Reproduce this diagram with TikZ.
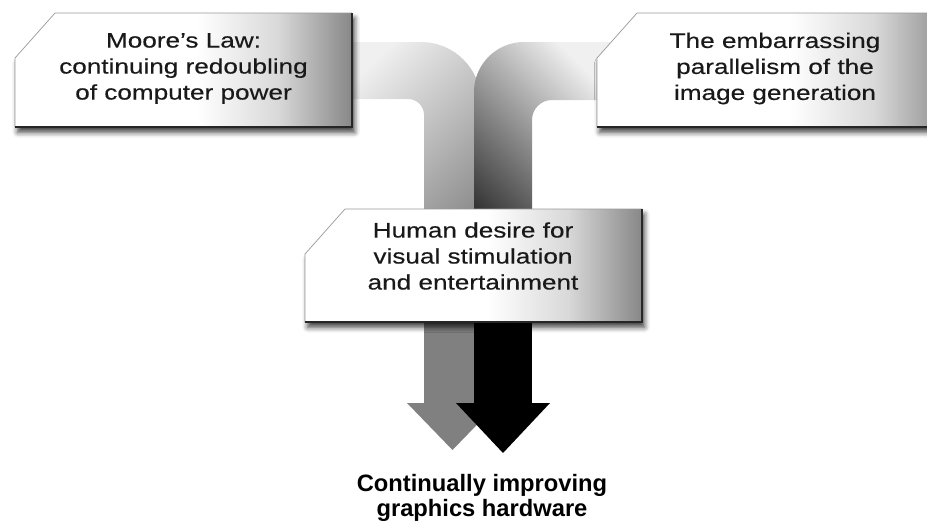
\documentclass[tikz,border=0pt]{standalone}
\usepackage{fontspec}
\setmainfont{Liberation Sans}
\newfontfamily\widefont[FakeStretch=1.24,FakeBold=0.3]{Liberation Sans}
\usetikzlibrary{arrows.meta,shadows.blur}
\pgfdeclarehorizontalshading{boxfade}{100bp}{color(0bp)=(white); color(52bp)=(white);
  color(64bp)=(black!15); color(75bp)=(black!47); color(100bp)=(black!47)}

\begin{document}
\begin{tikzpicture}[x=0.02cm,y=-0.02cm,
    panel/.style={shading=boxfade,
      blur shadow={shadow xshift=1.5pt,shadow yshift=-3pt,shadow blur radius=3pt,shadow opacity=75}},
    caption/.style={align=center,inner sep=0pt,text=black!90,
      font=\widefont\fontsize{12}{14.8}\selectfont},
    goal/.style={align=center,inner sep=0pt,font=\fontsize{13.5}{14}\selectfont\bfseries}]
  % Configurable parameters
  \def\cutx{40}            % Horizontal size of the cut corner
  \def\cuty{45}            % Vertical size of the cut corner
  \newcommand{\panelbox}[4]{% left, top, right, bottom
    \shade[panel] (#1+\cutx,#2) -- (#3,#2) -- (#3,#4) -- (#1,#4) -- (#1,#2+\cuty) -- cycle;
    \draw[black!40,line width=0.4pt] (#1,#4) -- (#1,#2+\cuty) -- (#1+\cutx,#2) -- (#3,#2);
    \draw[black!85,line width=1.1pt] (#3,#2) -- (#3,#4) -- (#1,#4);}
  %
  \useasboundingbox (0,0) rectangle (927,521);
  %
  % Bands (upper, shaded part)
  \shade[top color=black!6,bottom color=black!45,shading angle=45]
    (340,42) -- (421,42) arc (-90:0:60) -- (481,260) -- (424,260)
    -- (424,115) arc (0:-90:16) -- (340,99) -- cycle;
  \shade[top color=black!6,bottom color=black!80,shading angle=-45]
    (610,42) -- (524,42) arc (-90:-180:50) -- (474,260) -- (532,260)
    -- (532,120) arc (180:270:20) -- (610,100) -- cycle;
  %
  % Labels
  \node[caption] (moore) at (183.5,68.5) {Moore’s Law:\\continuing redoubling\\of computer power};
  \node[caption] (parallel) at (775,68.5) {The embarrassing\\parallelism of the\\image generation};
  \node[caption] (desire) at (473,256) {Human desire for\\visual stimulation\\and entertainment};
  \node[goal] (hardware) at (482,498) {Continually improving\\graphics hardware};
  \coordinate (greytip) at (452.5,450);
  \coordinate (blacktip) at (503,453);
  %
  % Arrows (lower part)
  \draw[black!50,line width=1.14cm,-{Triangle[width=1.82cm,length=0.94cm,line width=0pt]}]
    (greytip |- desire.north) -- (greytip);
  \draw[black,line width=1.16cm,-{Triangle[width=1.88cm,length=1.0cm,line width=0pt]}]
    (blacktip |- desire.north) -- (blacktip);
  %
  % Boxes
  \panelbox{15}{13}{352}{127}
  \panelbox{597}{13}{953}{127}
  \panelbox{305}{209}{642}{322}
  %
  % Texts again, on top of the boxes
  \node[caption] at (moore) {Moore’s Law:\\continuing redoubling\\of computer power};
  \node[caption] at (parallel) {The embarrassing\\parallelism of the\\image generation};
  \node[caption] at (desire) {Human desire for\\visual stimulation\\and entertainment};
  %
\end{tikzpicture}
\end{document}
